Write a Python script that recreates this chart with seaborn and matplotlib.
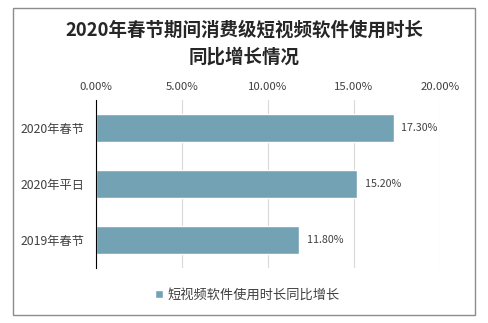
import matplotlib
matplotlib.use("Agg")
import matplotlib.pyplot as plt
import seaborn as sns
import pandas as pd
from matplotlib.patches import Rectangle
from matplotlib.ticker import FuncFormatter

categories = ["2020年春节", "2020年平日", "2019年春节"]
values = [17.3, 15.2, 11.8]
series_name = "短视频软件使用时长同比增长"

sns.set_theme(style="white")
plt.rcParams['font.family'] = ['Noto Sans CJK SC', 'DejaVu Sans']

df = pd.DataFrame({"cat": categories, "val": values, "series": series_name})

fig = plt.figure(figsize=(4.89, 3.23), dpi=100)
ax = fig.add_axes([96/489, 1-268/323, (440-96)/489, (268-100)/323])

sns.barplot(data=df, x="val", y="cat", hue="series", orient="h",
            palette=["#74A2B5"], saturation=1, width=0.5, ax=ax, legend=True)

ax.set_xlim(0, 20)
ax.set_xticks([0, 5, 10, 15, 20])
ax.xaxis.set_major_formatter(FuncFormatter(lambda v, p: f"{v:.2f}%"))
ax.xaxis.tick_top()
ax.tick_params(axis='x', length=0, labelsize=8.2, colors="#404040", pad=6)
ax.tick_params(axis='y', length=0, labelsize=8.8, colors="#404040", pad=8)
ax.grid(axis='x', color="#D9D9D9", linewidth=0.8)
ax.set_axisbelow(True)
for s in ["top", "right", "bottom"]:
    ax.spines[s].set_visible(False)
ax.spines["left"].set_color("#000000")
ax.spines["left"].set_linewidth(0.8)
ax.set_xlabel("")
ax.set_ylabel("")

for i, v in enumerate(values):
    ax.text(v + 0.45, i, f"{v:.2f}%", va="center", ha="left", fontsize=7.7, color="#404040")

leg = ax.legend(loc="center", bbox_to_anchor=(0.44, -0.16), frameon=False,
                fontsize=9.5, handlelength=0.6, handleheight=0.6, handletextpad=0.3,
                labelcolor="#404040")

fig.text(0.5, 1-30/323, "2020年春节期间消费级短视频软件使用时长", ha="center", va="center",
         fontsize=13.3, fontweight="bold", color="#262626")
fig.text(0.5, 1-57/323, "同比增长情况", ha="center", va="center",
         fontsize=13.3, fontweight="bold", color="#262626")

fig.patches.append(Rectangle((13/489, 1-315/323), (475-13)/489, (315-8)/323,
                             transform=fig.transFigure, fill=False, edgecolor="#8C8C8C", linewidth=1))

fig.savefig("out.png", dpi=100)
